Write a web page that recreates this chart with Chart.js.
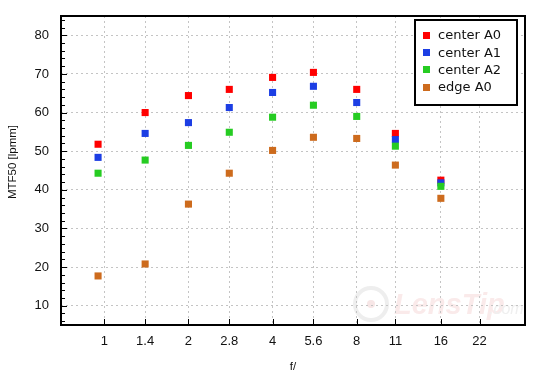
<!DOCTYPE html>
<html>
<head>
<meta charset="utf-8">
<script src="https://cdn.jsdelivr.net/npm/chart.js@4/dist/chart.umd.min.js"></script>
<style>
  html, body { margin: 0; padding: 0; background: #ffffff; }
  #wrap { width: 550px; height: 380px; }
</style>
</head>
<body>
<div id="wrap"><canvas id="c" width="550" height="380"></canvas></div>
<script>
// ---- data ----
const fNumbers   = [0.95, 1.4, 2, 2.8, 4, 5.6, 8, 11, 16];
const centerA0   = [51.8, 60.0, 64.4, 66.0, 69.1, 70.4, 66.0, 54.6, 42.5];
const centerA1   = [48.4, 54.6, 57.4, 61.3, 65.2, 66.8, 62.6, 53.0, 41.8];
const centerA2   = [44.3, 47.7, 51.5, 54.9, 58.8, 61.9, 59.0, 51.3, 40.9];
const edgeA0     = [17.7, 20.8, 36.3, 44.3, 50.2, 53.6, 53.3, 46.4, 37.8];
const seriesLabels = ['center A0', 'center A1', 'center A2', 'edge A0'];
const seriesColors = ['#ff0000', '#1c3ee4', '#26cc22', '#cd6b1d'];
const xTickValues = [1, 1.4, 2, 2.8, 4, 5.6, 8, 11, 16, 22];
const xTickLabels = ['1', '1.4', '2', '2.8', '4', '5.6', '8', '11', '16', '22'];
const yTickValues = [10, 20, 30, 40, 50, 60, 70, 80];
const xTitle = 'f/';
const yTitle = 'MTF50 [lpmm]';

const seriesValues = [centerA0, centerA1, centerA2, edgeA0];

const datasets = seriesValues.map((vals, i) => ({
  label: seriesLabels[i],
  data: fNumbers.map((f, j) => ({ x: f, y: vals[j] })),
  backgroundColor: seriesColors[i],
  borderColor: seriesColors[i],
  borderWidth: 0,
  pointStyle: 'rect',
  pointRadius: 5,
  pointHoverRadius: 5,
  showLine: false,
  order: seriesValues.length - i
}));

const decorPlugin = {
  id: 'decor',
  beforeDraw(chart) {
    const ctx = chart.ctx;
    ctx.save();
    ctx.fillStyle = '#ffffff';
    ctx.fillRect(0, 0, chart.width, chart.height);
    // faint watermark
    ctx.strokeStyle = '#eeeeee';
    ctx.lineWidth = 4;
    ctx.beginPath();
    ctx.arc(371, 304, 16, 0, Math.PI * 2);
    ctx.stroke();
    ctx.fillStyle = '#f7e6e6';
    ctx.beginPath();
    ctx.arc(371, 304, 4, 0, Math.PI * 2);
    ctx.fill();
    ctx.font = 'italic bold 29px "Liberation Sans", Arial, sans-serif';
    ctx.fillStyle = '#faeaea';
    ctx.textBaseline = 'alphabetic';
    ctx.textAlign = 'left';
    ctx.fillText('LensTip', 394, 314);
    ctx.font = 'italic 16px "Liberation Sans", Arial, sans-serif';
    ctx.fillStyle = '#efefef';
    ctx.fillText('.com', 489, 314);
    ctx.restore();
  },
  afterDatasetsDraw(chart) {
    const ctx = chart.ctx;
    const a = chart.chartArea;
    const xs = chart.scales.x, ys = chart.scales.y;
    ctx.save();
    ctx.strokeStyle = '#000000';
    // inner tick marks - y
    ctx.lineWidth = 1;
    ctx.beginPath();
    for (let v = Math.ceil(ys.min); v <= ys.max; v++) {
      if (v % 2 !== 0) continue;
      const y = Math.round(ys.getPixelForValue(v)) + 0.5;
      const len = (v % 10 === 0) ? 6 : 4;
      ctx.moveTo(a.left, y);
      ctx.lineTo(a.left + len, y);
    }
    // inner tick marks - x
    xTickValues.forEach(v => {
      const x = Math.round(xs.getPixelForValue(v)) + 0.5;
      ctx.moveTo(x, a.bottom);
      ctx.lineTo(x, a.bottom - 6);
    });
    ctx.stroke();
    // frame
    ctx.lineWidth = 2;
    ctx.strokeRect(a.left, a.top, a.right - a.left, a.bottom - a.top);

    // y axis title
    ctx.fillStyle = '#111111';
    ctx.font = '11.5px "Liberation Sans", Arial, sans-serif';
    ctx.textAlign = 'center';
    ctx.textBaseline = 'middle';
    ctx.translate(13, 162);
    ctx.rotate(-Math.PI / 2);
    ctx.fillText(yTitle, 0, 0);
    ctx.restore();

    // legend
    ctx.save();
    ctx.fillStyle = '#ffffff';
    ctx.fillRect(415, 20, 102, 85);
    ctx.strokeStyle = '#000000';
    ctx.lineWidth = 2;
    ctx.strokeRect(415, 20, 102, 85);
    ctx.font = '13px "DejaVu Sans", sans-serif';
    ctx.textAlign = 'left';
    ctx.textBaseline = 'middle';
    chart.data.datasets.forEach((ds, i) => {
      const cy = 35.5 + i * 17.2;
      ctx.fillStyle = ds.backgroundColor;
      ctx.fillRect(423, Math.round(cy - 3.5), 7, 7);
      ctx.fillStyle = '#111111';
      ctx.fillText(ds.label, 438, cy + 0.5);
    });
    ctx.restore();
  }
};

new Chart(document.getElementById('c'), {
  type: 'scatter',
  data: { datasets },
  plugins: [decorPlugin],
  options: {
    responsive: false,
    animation: false,
    devicePixelRatio: 1,
    layout: { padding: { top: 16, right: 25, left: 0, bottom: 0 } },
    plugins: {
      legend: { display: false },
      tooltip: { enabled: false }
    },
    scales: {
      x: {
        type: 'logarithmic',
        min: 0.7,
        max: 32,
        afterBuildTicks: s => { s.ticks = xTickValues.map(v => ({ value: v })); },
        afterFit: s => { s.height = 55; s.paddingLeft = 0; s.paddingRight = 0; },
        grid: { color: '#c4c4c4', lineWidth: 1, drawTicks: false },
        border: { display: false, dash: [2, 3] },
        ticks: {
          autoSkip: false,
          maxRotation: 0,
          padding: 9,
          color: '#111111',
          font: { family: '"Liberation Sans", Arial, sans-serif', size: 13 },
          callback: (v, i) => xTickLabels[i]
        },
        title: {
          display: true,
          text: xTitle,
          color: '#111111',
          font: { family: '"Liberation Sans", Arial, sans-serif', size: 11.5 },
          padding: { top: 0, bottom: 6 }
        }
      },
      y: {
        type: 'linear',
        min: 5,
        max: 85,
        afterBuildTicks: s => { s.ticks = yTickValues.map(v => ({ value: v })); },
        afterFit: s => { s.width = 61; s.paddingTop = 0; s.paddingBottom = 0; },
        grid: { color: '#c4c4c4', lineWidth: 1, drawTicks: false },
        border: { display: false, dash: [2, 3] },
        ticks: {
          padding: 12,
          color: '#111111',
          font: { family: '"Liberation Sans", Arial, sans-serif', size: 13 }
        }
      }
    }
  }
});
</script>
</body>
</html>
